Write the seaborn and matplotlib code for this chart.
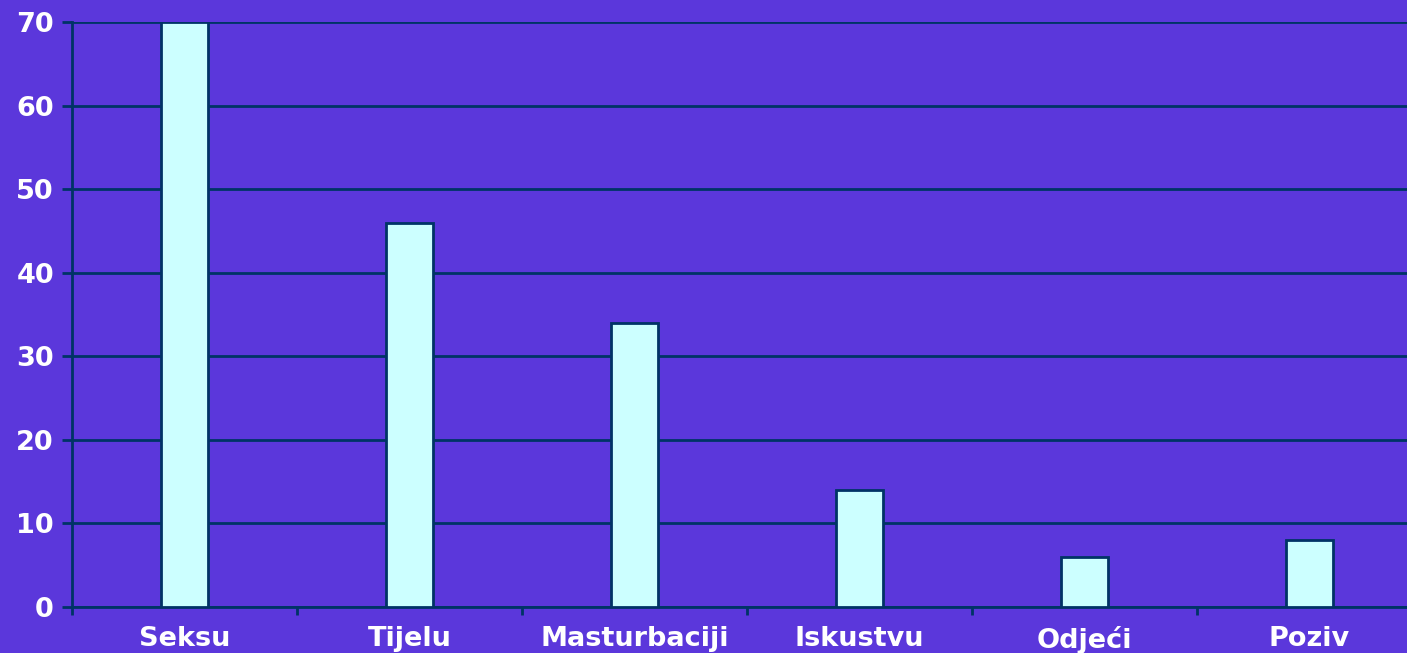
#!/usr/bin/env python3

import numpy as np
import matplotlib as mpl
mpl.use("Agg")
from matplotlib import pyplot as plt
import seaborn as sns
import pandas as pd

categories = ["Seksu", "Tijelu", "Masturbaciji", "Iskustvu", "Odjeći", "Poziv"]
values = [70, 46, 34, 14, 6, 8]

bg = "#5B37DB"
navy = "#003366"
fill = "#CCFFFF"

sns.set_style("white")
plt.rcParams['font.family'] = ['DejaVu Sans']

df = pd.DataFrame({'category': categories, 'value': values})

fig = plt.figure(figsize=(14.07, 6.53), dpi=100, facecolor=bg)
# plot area runs a little past the right edge of the figure, as in the original
ax = fig.add_axes([72/1407, 46/653, 1350/1407, (607 - 22)/653])
ax.set_facecolor(bg)

sns.barplot(data=df, x='category', y='value', width=0.205, color=fill,
            edgecolor=navy, linewidth=2, saturation=1, ax=ax, zorder=3)

ax.set_xlim(-0.5, 5.5)
ax.set_ylim(0, 70)
ax.set_yticks(np.arange(0, 71, 10))
ax.yaxis.grid(True, color=navy, linewidth=2, zorder=0)
ax.set_axisbelow(True)

ax.set_xticks(np.arange(-0.5, 6, 1))
ax.set_xticklabels([])
ax.set_xticks(range(len(categories)), categories, minor=True)
ax.tick_params(axis='x', which='major', bottom=True, length=6, width=2,
               color=navy, direction='out')
ax.tick_params(axis='x', which='minor', bottom=True, length=0, pad=14,
               labelsize=19.5, labelcolor='white')
ax.tick_params(axis='y', left=True, length=7, width=2, color=navy, direction='out',
               pad=6, labelsize=19.5, labelcolor='white')
for lab in ax.get_xticklabels(minor=True) + ax.get_yticklabels():
    lab.set_fontweight('bold')

for side in ['top', 'right']:
    ax.spines[side].set_visible(False)
for side in ['left', 'bottom']:
    ax.spines[side].set_color(navy)
    ax.spines[side].set_linewidth(2)

ax.set(xlabel='', ylabel='')

fig.savefig('out.png', dpi=100, facecolor=bg)
